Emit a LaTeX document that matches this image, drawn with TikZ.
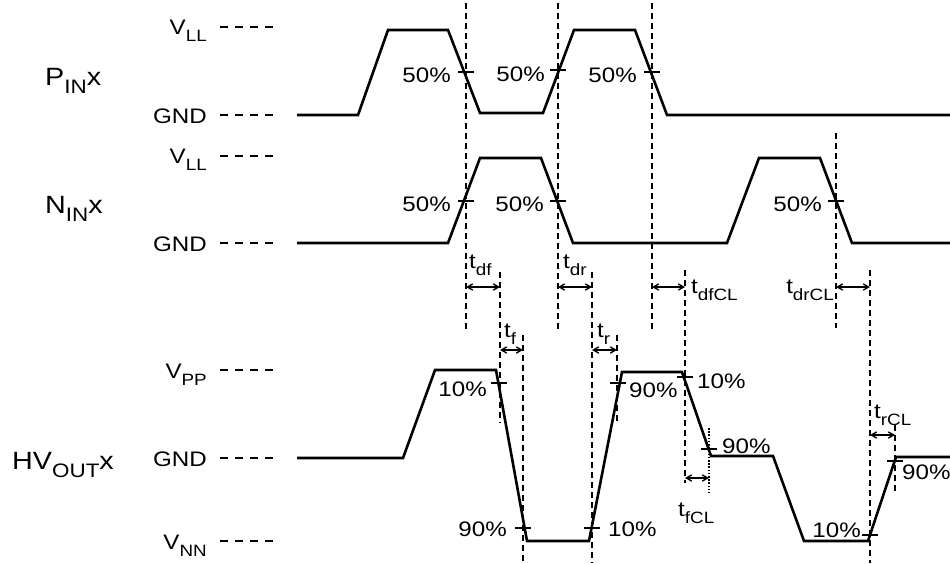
\documentclass[tikz,border=0pt]{standalone}
\usepackage{graphicx}
\usepackage{fontspec}
\setmainfont{Liberation Sans}[FakeStretch=1.15]
\usepackage{tikz}
\usetikzlibrary{arrows}

\newcommand{\sbs}[1]{\raisebox{-0.35em}{\scalebox{0.78}{#1}}}

\begin{document}
\begin{tikzpicture}[x=1pt,y=-1pt,>=angle 60,
  wave/.style={line width=2.6pt,line join=miter},
  guide/.style={line width=1.7pt,dash pattern=on 6pt off 4pt},
  fine/.style={line width=1.2pt,dash pattern=on 1.6pt off 1.6pt},
  level/.style={line width=1.7pt,dash pattern=on 8pt off 7pt},
  tickmark/.style={line width=2.4pt},
  span/.style={<->,line width=1.4pt},
  lab/.style={font=\fontsize{21}{24}\selectfont,inner sep=0pt},
  sig/.style={font=\fontsize{25}{28}\selectfont,inner sep=0pt}]

  \useasboundingbox (0,0) rectangle (950,563);

  % signal names
  \node[sig,anchor=base west] (pin) at (45,85) {P\sbs{IN}x};
  \node[sig,anchor=base west] (nin) at (45,213) {N\sbs{IN}x};
  \node[sig,anchor=base west] (hvout) at (12,469) {HV\sbs{OUT}x};

  % levels
  \node[lab,anchor=base east] (vll1) at (207,34) {V\sbs{LL}};
  \node[lab,anchor=base east] (gnd1) at (207,123) {GND};
  \node[lab,anchor=base east] (vll2) at (207,163) {V\sbs{LL}};
  \node[lab,anchor=base east] (gnd2) at (207,251) {GND};
  \node[lab,anchor=base east] (vpp) at (207,378) {V\sbs{PP}};
  \node[lab,anchor=base east] (gnd3) at (207,466) {GND};
  \node[lab,anchor=base east] (vnn) at (207,549) {V\sbs{NN}};

  \draw[level] (220,27) -- (278,27);
  \draw[level] (220,115) -- (278,115);
  \draw[level] (220,156) -- (278,156);
  \draw[level] (220,243) -- (278,243);
  \draw[level] (220,370) -- (278,370);
  \draw[level] (220,458) -- (278,458);
  \draw[level] (220,541) -- (278,541);

  % waveforms
  \draw[wave] (297,115) -- (358,115) -- (388,30) -- (448,30) -- (480,113)
    -- (543,113) -- (574,30) -- (635,30) -- (667,115) -- (950,115);
  \draw[wave] (297,243) -- (448,243) -- (480,158) -- (541,158) -- (573,243)
    -- (727,243) -- (759,158) -- (820,158) -- (852,243) -- (950,243);
  \draw[wave] (297,458) -- (403,458) -- (435,370) -- (496,370) -- (527,541)
    -- (589,541) -- (622,372) -- (682,372) -- (711,456) -- (773,456)
    -- (804,541) -- (868,541) -- (896,457) -- (950,457);

  % crossing points
  \coordinate (p1) at (466,72);
  \coordinate (p2) at (558,70);
  \coordinate (p3) at (652,72);
  \coordinate (n1) at (466,201);
  \coordinate (n2) at (558,201);
  \coordinate (n3) at (836,201);
  \coordinate (h1) at (499,383);
  \coordinate (h2) at (523,528);
  \coordinate (h3) at (592,528);
  \coordinate (h4) at (618,383);
  \coordinate (h5) at (685,377);
  \coordinate (h6) at (709,449);
  \coordinate (h7) at (870,535);
  \coordinate (h8) at (895,461);

  \foreach \c in {p1,p2,p3,n1,n2,n3,h1,h2,h3,h4,h5,h6,h7,h8}
    \draw[tickmark] ([xshift=-8]\c) -- ([xshift=8]\c);

  \node[lab,anchor=base east] (l1) at ([shift={(-15,10)}]p1) {50\%};
  \node[lab,anchor=base east] (l2) at ([shift={(-13,11)}]p2) {50\%};
  \node[lab,anchor=base east] (l3) at ([shift={(-15,10)}]p3) {50\%};
  \node[lab,anchor=base east] (l4) at ([shift={(-15,10)}]n1) {50\%};
  \node[lab,anchor=base east] (l5) at ([shift={(-14,10)}]n2) {50\%};
  \node[lab,anchor=base east] (l6) at ([shift={(-14,10)}]n3) {50\%};
  \node[lab,anchor=base east] (l7) at ([shift={(-12,13)}]h1) {10\%};
  \node[lab,anchor=base east] (l8) at ([shift={(-16,8)}]h2) {90\%};
  \node[lab,anchor=base west] (l9) at ([shift={(16,8)}]h3) {10\%};
  \node[lab,anchor=base west] (l10) at ([shift={(11,14)}]h4) {90\%};
  \node[lab,anchor=base west] (l11) at ([shift={(12,11)}]h5) {10\%};
  \node[lab,anchor=base west] (l12) at ([shift={(13,4)}]h6) {90\%};
  \node[lab,anchor=base east] (l13) at ([shift={(-9,2)}]h7) {10\%};
  \node[lab,anchor=base west] (l14) at ([shift={(7,18)}]h8) {90\%};

  % timing guides
  \draw[guide] (466,3) -- (466,330);
  \draw[guide] (558,3) -- (558,330);
  \draw[guide] (652,3) -- (652,330);
  \draw[guide] (836,133) -- (836,328);
  \draw[guide] (500,272) -- (500,423);
  \draw[guide] (523,335) -- (523,563);
  \draw[guide] (592,272) -- (592,563);
  \draw[guide] (617,335) -- (617,423);
  \draw[guide] (685,270) -- (685,483);
  \draw[fine] (709,428) -- (709,493);
  \draw[guide] (870,270) -- (870,563);
  \draw[guide] (895,425) -- (895,493);

  % timing spans
  \draw[span] (466,287) -- (500,287);
  \draw[span] (500,350) -- (523,350);
  \draw[span] (558,287) -- (592,287);
  \draw[span] (592,350) -- (617,350);
  \draw[span] (652,287) -- (685,287);
  \draw[span] (685,478) -- (709,478);
  \draw[span] (836,287) -- (870,287);
  \draw[span] (870,435) -- (895,435);

  \node[lab,anchor=base west] (tdf) at (469,268) {t\sbs{df}};
  \node[lab,anchor=base west] (tdr) at (563,268) {t\sbs{dr}};
  \node[lab,anchor=base west] (tf) at (504,337) {t\sbs{f}};
  \node[lab,anchor=base west] (tr) at (597,337) {t\sbs{r}};
  \node[lab,anchor=base west] (tdfcl) at (691,293) {t\sbs{dfCL}};
  \node[lab,anchor=base east] (tdrcl) at (834,293) {t\sbs{drCL}};
  \node[lab,anchor=base west] (trcl) at (874,418) {t\sbs{rCL}};
  \node[lab,anchor=base west] (tfcl) at (678,516) {t\sbs{fCL}};

\end{tikzpicture}
\end{document}
